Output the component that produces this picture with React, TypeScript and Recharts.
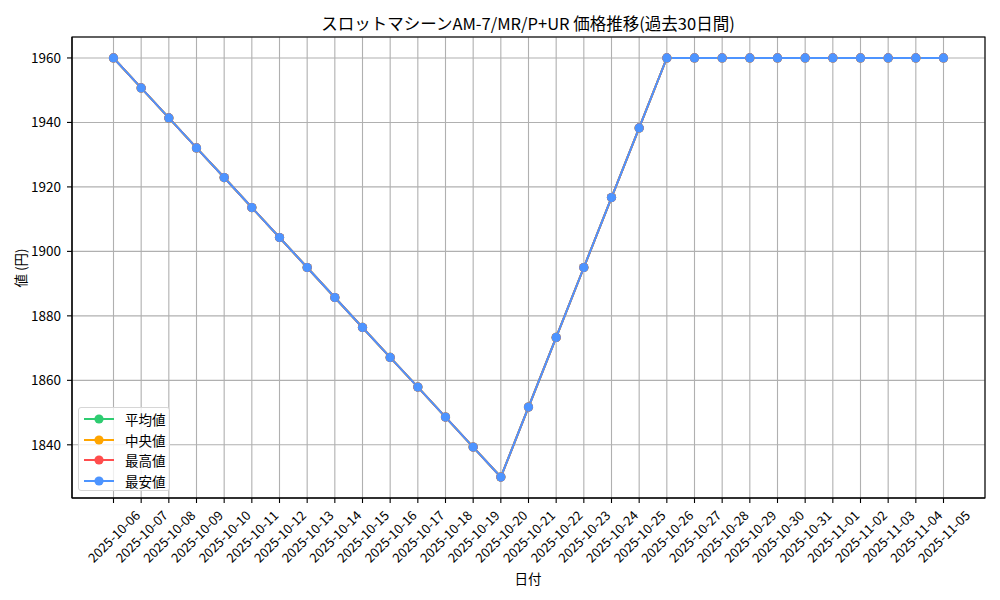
import React from "react";
import { LineChart, Line, XAxis, YAxis, CartesianGrid } from "recharts";

const dates = [
  "2025-10-06", "2025-10-07", "2025-10-08", "2025-10-09", "2025-10-10", "2025-10-11",
  "2025-10-12", "2025-10-13", "2025-10-14", "2025-10-15", "2025-10-16", "2025-10-17",
  "2025-10-18", "2025-10-19", "2025-10-20", "2025-10-21", "2025-10-22", "2025-10-23",
  "2025-10-24", "2025-10-25", "2025-10-26", "2025-10-27", "2025-10-28", "2025-10-29",
  "2025-10-30", "2025-10-31", "2025-11-01", "2025-11-02", "2025-11-03", "2025-11-04",
  "2025-11-05",
];

const avgPrices = [
  1960, 1950.7, 1941.4, 1932.1, 1922.9, 1913.6, 1904.3, 1895, 1885.7, 1876.4, 1867.1,
  1857.9, 1848.6, 1839.3, 1830, 1851.7, 1873.3, 1895, 1916.7, 1938.3, 1960, 1960, 1960,
  1960, 1960, 1960, 1960, 1960, 1960, 1960, 1960,
];
const medianPrices = [
  1960, 1950.7, 1941.4, 1932.1, 1922.9, 1913.6, 1904.3, 1895, 1885.7, 1876.4, 1867.1,
  1857.9, 1848.6, 1839.3, 1830, 1851.7, 1873.3, 1895, 1916.7, 1938.3, 1960, 1960, 1960,
  1960, 1960, 1960, 1960, 1960, 1960, 1960, 1960,
];
const maxPrices = [
  1960, 1950.7, 1941.4, 1932.1, 1922.9, 1913.6, 1904.3, 1895, 1885.7, 1876.4, 1867.1,
  1857.9, 1848.6, 1839.3, 1830, 1851.7, 1873.3, 1895, 1916.7, 1938.3, 1960, 1960, 1960,
  1960, 1960, 1960, 1960, 1960, 1960, 1960, 1960,
];
const minPrices = [
  1960, 1950.7, 1941.4, 1932.1, 1922.9, 1913.6, 1904.3, 1895, 1885.7, 1876.4, 1867.1,
  1857.9, 1848.6, 1839.3, 1830, 1851.7, 1873.3, 1895, 1916.7, 1938.3, 1960, 1960, 1960,
  1960, 1960, 1960, 1960, 1960, 1960, 1960, 1960,
];

const yTicks = [1840, 1860, 1880, 1900, 1920, 1940, 1960];

const series = [
  { key: "avg", name: "平均値", color: "#2ecc71" },
  { key: "median", name: "中央値", color: "#ffa500" },
  { key: "max", name: "最高値", color: "#ff4d4d" },
  { key: "min", name: "最安値", color: "#4d94ff" },
];

const data = dates.map((d, i) => ({
  date: d,
  avg: avgPrices[i],
  median: medianPrices[i],
  max: maxPrices[i],
  min: minPrices[i],
}));

const FONT = "'Noto Sans CJK JP', sans-serif";

function DateTick(props: any) {
  const { x, payload } = props;
  return (
    <text
      transform={`translate(${x}, 536) rotate(-45)`}
      textAnchor="middle"
      dominantBaseline="central"
      fontSize={13}
      fontFamily={FONT}
      fill="#000"
    >
      {payload.value}
    </text>
  );
}

function ChartLegend() {
  return (
    <div
      style={{
        position: "absolute",
        left: 78,
        top: 407,
        width: 92,
        height: 84,
        boxSizing: "border-box",
        border: "1px solid #d6d6d6",
        borderRadius: 3,
        background: "rgba(255,255,255,0.8)",
        padding: "1px 0 0 4px",
        fontFamily: FONT,
        fontSize: 13.5,
      }}
    >
      {series.map((s) => (
        <div key={s.key} style={{ display: "flex", alignItems: "center", height: 20.5 }}>
          <svg width={32} height={12} style={{ marginRight: 10 }}>
            <line x1={1} y1={6} x2={31} y2={6} stroke={s.color} strokeWidth={2} />
            <circle cx={16} cy={6} r={4.6} fill={s.color} />
          </svg>
          <span>{s.name}</span>
        </div>
      ))}
    </div>
  );
}

export default function App() {
  return (
    <div style={{ position: "fixed", left: 0, top: 0, width: 1000, height: 600, background: "#fff" }}>
      <div
        style={{
          position: "absolute",
          left: 0,
          width: 1056,
          top: 11,
          textAlign: "center",
          fontFamily: FONT,
          fontSize: 16.5,
        }}
      >
        スロットマシーンAM-7/MR/P+UR 価格推移(過去30日間)
      </div>
      <div
        style={{
          position: "absolute",
          left: 20,
          top: 268,
          transform: "translate(-50%, -50%) rotate(-90deg)",
          fontFamily: FONT,
          fontSize: 13.5,
          whiteSpace: "nowrap",
        }}
      >
        値 (円)
      </div>
      <div
        style={{
          position: "absolute",
          left: 528,
          top: 578,
          transform: "translate(-50%, -50%)",
          fontFamily: FONT,
          fontSize: 13.5,
        }}
      >
        日付
      </div>
      <LineChart
        width={1000}
        height={600}
        data={data}
        margin={{ top: 37, right: 15, left: 0, bottom: 0 }}
      >
        <CartesianGrid stroke="#b0b0b0" strokeWidth={1.1} />
        <XAxis
          dataKey="date"
          interval={0}
          height={102}
          padding={{ left: 41.5, right: 41.5 }}
          tick={<DateTick />}
          tickSize={5}
          tickLine={{ stroke: "#000", strokeWidth: 1.1 }}
          axisLine={{ stroke: "#000", strokeWidth: 1.1 }}
        />
        <YAxis
          type="number"
          domain={[1823.5, 1966.5]}
          ticks={yTicks}
          width={72}
          tickSize={5}
          tickMargin={6}
          tick={{ fontSize: 13.5, fontFamily: FONT, fill: "#000" }}
          tickLine={{ stroke: "#000", strokeWidth: 1.1 }}
          axisLine={{ stroke: "#000", strokeWidth: 1.1 }}
          allowDataOverflow
        />
        {series.map((s) => (
          <Line
            key={s.key}
            dataKey={s.key}
            name={s.name}
            stroke={s.color}
            strokeWidth={2}
            dot={{ r: 4.6, fill: s.color, stroke: s.color, strokeWidth: 0 }}
            activeDot={false}
            isAnimationActive={false}
          />
        ))}
      </LineChart>
      <svg
        width={1000}
        height={600}
        style={{ position: "absolute", left: 0, top: 0, pointerEvents: "none" }}
      >
        <rect x={72} y={37} width={913} height={461} fill="none" stroke="#000" strokeWidth={1.1} />
      </svg>
      <ChartLegend />
    </div>
  );
}
